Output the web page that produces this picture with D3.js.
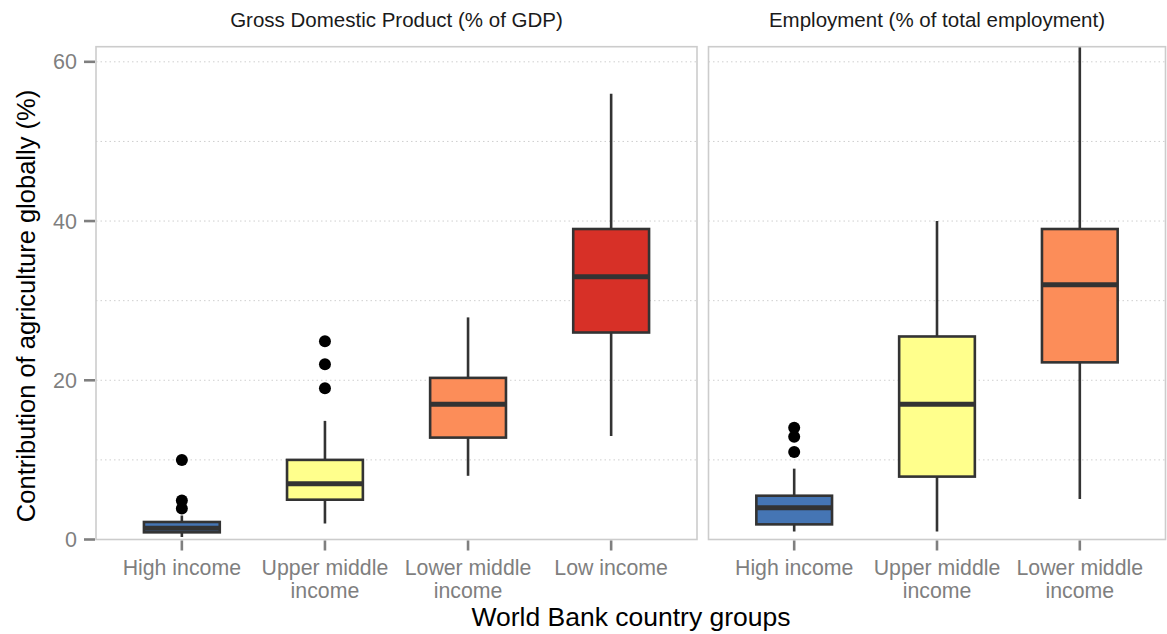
<!DOCTYPE html>
<html>
<head>
<meta charset="utf-8">
<script src="https://cdn.jsdelivr.net/npm/d3@7"></script>
<style>
  html, body { margin: 0; padding: 0; background: #fff; }
  svg { display: block; font-family: "Liberation Sans", Arial, sans-serif; }
</style>
</head>
<body>
<svg id="chart" width="1167" height="634"></svg>
<script>
// Income groups and their fills
const gdpGroups = ["High income", "Upper middle income", "Lower middle income", "Low income"];
const empGroups = ["High income", "Upper middle income", "Lower middle income"];
const groupColors = ["#4575b4", "#ffff8c", "#fc8d59", "#d73027"];

// Box statistics per group: [lower whisker, Q1, median, Q3, upper whisker]
const gdpStats = [
  [0.3, 0.9, 1.4, 2.2, 3.0],
  [2.0, 5.0, 7.0, 10.0, 14.9],
  [8.0, 12.8, 17.0, 20.3, 27.9],
  [13.0, 26.0, 33.0, 39.0, 56.0]
];
const gdpOutliers = [
  [10.0, 4.9, 3.9],
  [24.9, 22.0, 19.0],
  [],
  []
];

const empStats = [
  [1.0, 1.9, 4.0, 5.5, 8.9],
  [1.0, 7.9, 17.0, 25.5, 40.0],
  [5.1, 22.25, 32.0, 39.0, 64.0]
];
const empOutliers = [
  [14.05, 12.9, 11.0],
  [],
  []
];

const yTicks = [0, 20, 40, 60];
const yMinor = [10, 30, 50];

const panels = [
  { title: "Gross Domestic Product (% of GDP)", groups: gdpGroups, stats: gdpStats, outliers: gdpOutliers, x0: 96, x1: 697 },
  { title: "Employment (% of total employment)", groups: empGroups, stats: empStats, outliers: empOutliers, x0: 708.5, x1: 1165.5 }
];

const svg = d3.select("#chart");
const plotTop = 46.7, plotBottom = 539.5;
const y = d3.scaleLinear().domain([0, 61.9]).range([plotBottom, plotTop]);

const labelGrey = "#7f7f7f";
const boxWidthFrac = 0.53;

panels.forEach((p, pi) => {
  const n = p.groups.length;
  // discrete scale with 0.6 unit padding on each side
  const unit = (p.x1 - p.x0) / (n - 1 + 1.2);
  const x = d3.scalePoint().domain(p.groups).range([p.x0 + 0.6 * unit, p.x1 - 0.6 * unit]);
  const bw = unit * boxWidthFrac;

  const clipId = "clip" + pi;
  svg.append("clipPath").attr("id", clipId)
    .append("rect").attr("x", p.x0).attr("y", plotTop).attr("width", p.x1 - p.x0).attr("height", plotBottom - plotTop);

  const g = svg.append("g");

  // grid lines
  g.selectAll(".grid").data(yTicks.concat(yMinor)).join("line")
    .attr("x1", p.x0).attr("x2", p.x1)
    .attr("y1", d => y(d)).attr("y2", d => y(d))
    .attr("stroke", "#cfcfcf").attr("stroke-width", 1)
    .attr("stroke-dasharray", "1.5,3");

  const plot = g.append("g").attr("clip-path", `url(#${clipId})`);

  p.stats.forEach((s, i) => {
    const cx = x(p.groups[i]);
    const [lo, q1, med, q3, hi] = s;
    // whiskers
    plot.append("line").attr("x1", cx).attr("x2", cx).attr("y1", y(q3)).attr("y2", y(hi))
      .attr("stroke", "#333").attr("stroke-width", 2.6);
    plot.append("line").attr("x1", cx).attr("x2", cx).attr("y1", y(q1)).attr("y2", y(lo))
      .attr("stroke", "#333").attr("stroke-width", 2.6);
    // box
    plot.append("rect").attr("x", cx - bw / 2).attr("width", bw)
      .attr("y", y(q3)).attr("height", y(q1) - y(q3))
      .attr("fill", groupColors[i]).attr("stroke", "#333").attr("stroke-width", 2.6);
    // median
    plot.append("line").attr("x1", cx - bw / 2).attr("x2", cx + bw / 2)
      .attr("y1", y(med)).attr("y2", y(med))
      .attr("stroke", "#333").attr("stroke-width", 5);
    // outliers
    plot.selectAll(null).data(p.outliers[i]).join("circle")
      .attr("cx", cx).attr("cy", d => y(d)).attr("r", 6).attr("fill", "#000");
  });

  // panel border
  g.append("rect").attr("x", p.x0).attr("y", plotTop).attr("width", p.x1 - p.x0).attr("height", plotBottom - plotTop)
    .attr("fill", "none").attr("stroke", "#cccccc").attr("stroke-width", 1.6);

  // strip title
  svg.append("text").attr("x", (p.x0 + p.x1) / 2).attr("y", 27)
    .attr("text-anchor", "middle").attr("font-size", 20.5).attr("fill", "#1a1a1a").text(p.title);

  // x axis ticks and labels
  p.groups.forEach(gname => {
    const cx = x(gname);
    svg.append("line").attr("x1", cx).attr("x2", cx).attr("y1", plotBottom + 1).attr("y2", plotBottom + 11)
      .attr("stroke", labelGrey).attr("stroke-width", 2.6);
    const words = gname.split(" ");
    const lines = words.length > 2 ? [words.slice(0, 2).join(" "), words.slice(2).join(" ")] : [gname];
    const t = svg.append("text").attr("x", cx).attr("y", 575)
      .attr("text-anchor", "middle").attr("font-size", 21.3).attr("fill", labelGrey);
    lines.forEach((ln, li) => {
      t.append("tspan").attr("x", cx).attr("dy", li === 0 ? 0 : 23).text(ln);
    });
  });
});

// y axis
const yAxisG = svg.append("g");
yTicks.forEach(v => {
  yAxisG.append("line").attr("x1", 84).attr("x2", 95).attr("y1", y(v)).attr("y2", y(v))
    .attr("stroke", labelGrey).attr("stroke-width", 2.6);
  yAxisG.append("text").attr("x", 77).attr("y", y(v)).attr("dy", "0.35em")
    .attr("text-anchor", "end").attr("font-size", 21.5).attr("fill", labelGrey).text(v);
});

// axis titles
svg.append("text").attr("x", 631).attr("y", 626).attr("text-anchor", "middle")
  .attr("font-size", 26.5).attr("fill", "#000").text("World Bank country groups");
svg.append("text").attr("transform", "translate(35,306) rotate(-90)").attr("text-anchor", "middle")
  .attr("font-size", 25.5).attr("fill", "#000").text("Contribution of agriculture globally (%)");
</script>
</body>
</html>
